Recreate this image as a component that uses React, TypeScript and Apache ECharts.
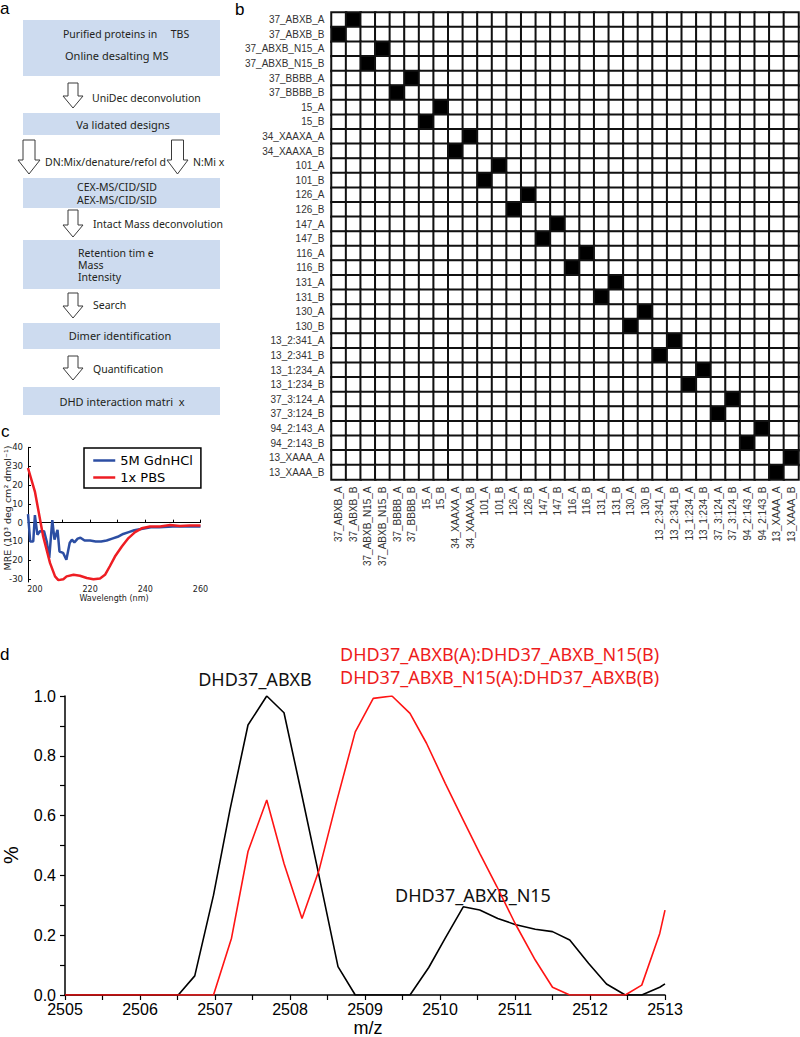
import React, { useEffect, useRef } from "react";
import * as echarts from "echarts";

// ---------- Panel b: DHD interaction matrix ----------
const designs = [
  "37_ABXB_A", "37_ABXB_B", "37_ABXB_N15_A", "37_ABXB_N15_B", "37_BBBB_A", "37_BBBB_B",
  "15_A", "15_B", "34_XAAXA_A", "34_XAAXA_B", "101_A", "101_B", "126_A", "126_B",
  "147_A", "147_B", "116_A", "116_B", "131_A", "131_B", "130_A", "130_B",
  "13_2:341_A", "13_2:341_B", "13_1:234_A", "13_1:234_B", "37_3:124_A", "37_3:124_B",
  "94_2:143_A", "94_2:143_B", "13_XAAA_A", "13_XAAA_B",
];
const interactingPairs = [
  ["37_ABXB_A", "37_ABXB_B"], ["37_ABXB_N15_A", "37_ABXB_N15_B"], ["37_BBBB_A", "37_BBBB_B"],
  ["15_A", "15_B"], ["34_XAAXA_A", "34_XAAXA_B"], ["101_A", "101_B"], ["126_A", "126_B"],
  ["147_A", "147_B"], ["116_A", "116_B"], ["131_A", "131_B"], ["130_A", "130_B"],
  ["13_2:341_A", "13_2:341_B"], ["13_1:234_A", "13_1:234_B"], ["37_3:124_A", "37_3:124_B"],
  ["94_2:143_A", "94_2:143_B"], ["13_XAAA_A", "13_XAAA_B"],
];

// ---------- Panel c: CD spectra ----------
const gdnWavelength = [197.5, 198.3, 199.4, 200, 200.9, 201.9, 203.3, 204.3, 205.2, 206.3, 207.1, 208.2, 208.9, 210.2, 211.4, 212.6, 213.4, 214.3, 215.5, 216.5, 218, 220, 222, 224, 226, 228, 230, 232, 234, 236, 238, 240, 242, 245, 250, 255, 260];
const gdnMre = [4.5, -10, -10, 4, -6.4, -4.5, -4.5, -10, -18.7, 1.4, -9, -3.8, -15.3, -16, -19.7, -10.8, -9, -10.5, -8.5, -8, -9.5, -9.5, -10, -10, -9.5, -8.5, -7.5, -6, -5, -4, -3.5, -3, -2.5, -2.5, -2, -2, -2];
const pbsWavelength = [197.5, 200, 203, 205.5, 207.3, 208.5, 210.3, 211.5, 214, 216.3, 218.8, 221.2, 223.6, 225.4, 227.2, 229, 231.5, 233.9, 236.3, 238.7, 241.7, 245.4, 249, 252.6, 256, 260];
const pbsMre = [29, 16.5, -7.3, -21.5, -28.5, -30.5, -30, -28.5, -27.7, -28.2, -29.4, -30, -29.6, -27.7, -23, -18, -12.7, -8.2, -5, -3, -2, -2, -1.3, -1.8, -1.5, -1.5];
const cdXTickLabels = [200, 220, 240, 260];
const cdXTicks = [200, 210, 220, 230, 240, 250, 260];
const cdYTickLabels = [-30, -20, -10, 0, 10, 20, 30, 40];

// ---------- Panel d: mass spectra ----------
const homodimerMz = [2505, 2506.51, 2506.73, 2506.98, 2507.2, 2507.44, 2507.69, 2507.92, 2508.15, 2508.38, 2508.64, 2508.87, 2509.6, 2509.85, 2510.07, 2510.31, 2510.53, 2510.77, 2511.0, 2511.27, 2511.5, 2511.73, 2511.98, 2512.22, 2512.47, 2512.69, 2512.93, 2513];
const homodimerIntensity = [0, 0, 0.064, 0.334, 0.62, 0.903, 1.0, 0.944, 0.678, 0.407, 0.095, 0, 0, 0.092, 0.19, 0.295, 0.284, 0.256, 0.236, 0.22, 0.212, 0.184, 0.106, 0.037, 0, 0, 0.026, 0.037];
const heterodimerMz = [2505, 2506.98, 2507.22, 2507.44, 2507.69, 2507.92, 2508.16, 2508.39, 2508.62, 2508.87, 2509.11, 2509.36, 2509.6, 2509.82, 2510.07, 2510.31, 2510.53, 2510.76, 2511.0, 2511.27, 2511.5, 2511.73, 2512.47, 2512.69, 2512.93, 2513];
const heterodimerIntensity = [0, 0, 0.19, 0.48, 0.652, 0.44, 0.256, 0.42, 0.646, 0.88, 0.992, 1.0, 0.942, 0.842, 0.708, 0.585, 0.474, 0.362, 0.24, 0.117, 0.026, 0, 0, 0.033, 0.206, 0.284];

// ---------- Panel a: workflow texts ----------
const workflowBoxes = [
  ["Purified proteins in     TBS", "Online desalting MS"],
  ["Va lidated designs"],
  ["CEX-MS/CID/SID", "AEX-MS/CID/SID"],
  ["Retention tim e", "Mass", "Intensity"],
  ["Dimer identification"],
  ["DHD interaction matri  x"],
];
const workflowSteps = ["UniDec deconvolution", "DN:Mix/denature/refol d", "N:Mi x", "Intact Mass deconvolution", "Search", "Quantification"];

const BOX = "#cddbef";
const TXT = "#231f20";
const FLOW_FONT = "'Noto Sans', sans-serif";

function arrow(cx: number, top: number, bottom: number, shaftHalf: number, headHalf: number, headLen: number) {
  const s = bottom - headLen;
  return {
    type: "polygon",
    shape: {
      points: [
        [cx - shaftHalf, top], [cx + shaftHalf, top], [cx + shaftHalf, s], [cx + headHalf, s],
        [cx, bottom], [cx - headHalf, s], [cx - shaftHalf, s],
      ],
    },
    style: { fill: "#fff", stroke: "#3a3a3a", lineWidth: 1 },
  };
}
function ftext(x: number, y: number, text: string, align: string = "left", size = 10.5) {
  return {
    type: "text", x, y,
    style: { text, fill: TXT, font: `${size}px ${FLOW_FONT}`, align, verticalAlign: "middle" },
  };
}
function box(y: number, h: number) {
  return { type: "rect", shape: { x: 23, y, width: 197, height: h }, style: { fill: BOX } };
}

export default function App() {
  const ref = useRef<HTMLDivElement>(null);
  useEffect(() => {
    if (!ref.current) return;
    const chart = echarts.init(ref.current, undefined, { renderer: "svg" });

    const idx: Record<string, number> = {};
    designs.forEach((d, i) => (idx[d] = i));
    const inter = new Set<string>();
    interactingPairs.forEach(([a, b]) => {
      inter.add(idx[a] + "," + idx[b]);
      inter.add(idx[b] + "," + idx[a]);
    });
    const heat: number[][] = [];
    for (let r = 0; r < designs.length; r++)
      for (let c = 0; c < designs.length; c++) heat.push([c, r, inter.has(r + "," + c) ? 1 : 0]);

    const letterFont = "17px 'Liberation Sans', sans-serif";
    const graphics: any[] = [
      // panel letters
      { type: "text", x: 0, y: 8, style: { text: "a", font: letterFont, fill: "#000", verticalAlign: "middle" } },
      { type: "text", x: 235, y: 9, style: { text: "b", font: letterFont, fill: "#000", verticalAlign: "middle" } },
      { type: "text", x: 1, y: 431, style: { text: "c", font: letterFont, fill: "#000", verticalAlign: "middle" } },
      { type: "text", x: 0, y: 654, style: { text: "d", font: letterFont, fill: "#000", verticalAlign: "middle" } },
      // workflow
      box(20, 56), box(113, 22), box(178, 30), box(240, 49), box(323, 26), box(387, 28),
      ftext(63, 34, workflowBoxes[0][0]), ftext(65, 55, workflowBoxes[0][1], "left", 11),
      ftext(123, 124, workflowBoxes[1][0], "center", 11),
      ftext(117, 187, workflowBoxes[2][0], "center", 10.5), ftext(117, 200, workflowBoxes[2][1], "center", 10.5),
      ftext(78, 253, workflowBoxes[3][0]), ftext(78, 265, workflowBoxes[3][1]), ftext(78, 277, workflowBoxes[3][2]),
      ftext(120, 335, workflowBoxes[4][0], "center", 11),
      ftext(122, 401, workflowBoxes[5][0], "center", 11),
      arrow(73, 83, 108, 5, 10, 12), ftext(92, 98, workflowSteps[0]),
      arrow(29, 140, 174, 6, 11, 14), ftext(45, 162, workflowSteps[1]),
      arrow(177.5, 140, 174, 6, 10.5, 14), ftext(193, 162, workflowSteps[2]),
      arrow(73, 210, 237, 5, 10, 12), ftext(93, 224, workflowSteps[3]),
      arrow(73, 293, 318, 5, 10, 12), ftext(93, 305, workflowSteps[4]),
      arrow(73, 356, 380, 5, 10, 12), ftext(93, 369, workflowSteps[5]),
      // panel c axis titles
      { type: "text", x: 114, y: 598, style: { text: "Wavelength (nm)", font: "8px 'DejaVu Sans', sans-serif", fill: "#222", align: "center", verticalAlign: "middle" } },
      { type: "text", x: 7, y: 508, rotation: Math.PI / 2, style: { text: "MRE (10³ deg cm² dmol⁻¹)", font: "9.5px 'DejaVu Sans', sans-serif", fill: "#222", align: "center", verticalAlign: "middle" } },
      // panel d annotations
      { type: "text", x: 255, y: 679, style: { text: "DHD37_ABXB", font: "18px 'Noto Sans', sans-serif", fill: "#111", align: "center", verticalAlign: "middle" } },
      { type: "text", x: 340, y: 654, style: { text: "DHD37_ABXB(A):DHD37_ABXB_N15(B)", font: "18px 'Noto Sans', sans-serif", fill: "#ee1c1c", verticalAlign: "middle" } },
      { type: "text", x: 340, y: 677, style: { text: "DHD37_ABXB_N15(A):DHD37_ABXB(B)", font: "18px 'Noto Sans', sans-serif", fill: "#ee1c1c", verticalAlign: "middle" } },
      { type: "text", x: 395, y: 895, style: { text: "DHD37_ABXB_N15", font: "18px 'Noto Sans', sans-serif", fill: "#111", verticalAlign: "middle" } },
      { type: "text", x: 368, y: 1027.5, style: { text: "m/z", font: "18px 'Liberation Sans', sans-serif", fill: "#000", align: "center", verticalAlign: "middle" } },
      { type: "text", x: 11, y: 855, rotation: Math.PI / 2, style: { text: "%", font: "20px 'Liberation Sans', sans-serif", fill: "#000", align: "center", verticalAlign: "middle" } },
    ];

    const cdAxisLabel = { fontSize: 8, color: "#222", fontFamily: "'DejaVu Sans', sans-serif" };
    const msAxisLabel = { fontSize: 16, color: "#000", fontFamily: "'Liberation Sans', Arial, sans-serif" };

    chart.setOption({
      animation: false,
      backgroundColor: "#fff",
      grid: [
        { left: 331.5, top: 12.5, width: 467, height: 467, outerBoundsMode: "none" },
        { left: 28, top: 447.3, width: 172.5, height: 134.7, outerBoundsMode: "none" },
        { left: 65, top: 696, width: 600, height: 299, outerBoundsMode: "none" },
      ],
      xAxis: [
        {
          gridIndex: 0, type: "category", data: designs, position: "bottom",
          axisLine: { show: false }, axisTick: { show: false }, splitLine: { show: false },
          axisLabel: { rotate: 90, interval: 0, margin: 7, fontSize: 10, color: "#333", fontFamily: "'Liberation Sans', Arial, sans-serif" },
        },
        {
          gridIndex: 1, type: "value", min: 197.5, max: 260,
          axisLine: { lineStyle: { color: "#000", width: 1 } },
          axisTick: { inside: true, length: 3, customValues: cdXTicks, lineStyle: { color: "#000" } },
          axisLabel: { ...cdAxisLabel, margin: 3, customValues: cdXTickLabels },
          splitLine: { show: false },
        },
        {
          gridIndex: 2, type: "value", min: 2505, max: 2513, interval: 1,
          axisLine: { lineStyle: { color: "#000", width: 1.5 } },
          axisTick: { length: 5, lineStyle: { color: "#000", width: 1.2 } },
          minorTick: { show: true, splitNumber: 2, length: 5, lineStyle: { color: "#000", width: 1.2 } },
          axisLabel: { ...msAxisLabel, margin: 6, formatter: (v: number) => String(Math.round(v)) },
          splitLine: { show: false },
        },
      ],
      yAxis: [
        {
          gridIndex: 0, type: "category", data: designs, inverse: true,
          axisLine: { show: false }, axisTick: { show: false }, splitLine: { show: false },
          axisLabel: { interval: 0, margin: 7, fontSize: 10, color: "#333", fontFamily: "'Liberation Sans', Arial, sans-serif" },
        },
        {
          gridIndex: 1, type: "value", min: -31.5, max: 40,
          axisLine: { show: true, lineStyle: { color: "#000", width: 1 } },
          axisTick: { show: true, inside: true, length: 3, customValues: cdYTickLabels, lineStyle: { color: "#000" } },
          axisLabel: { ...cdAxisLabel, fontSize: 8.5, margin: 5, customValues: cdYTickLabels },
          splitLine: { show: false },
        },
        {
          gridIndex: 2, type: "value", min: 0, max: 1, interval: 0.2,
          axisLine: { show: true, lineStyle: { color: "#000", width: 1.5 } },
          axisTick: { show: true, length: 5, lineStyle: { color: "#000", width: 1.2 } },
          minorTick: { show: true, splitNumber: 2, length: 5, lineStyle: { color: "#000", width: 1.2 } },
          axisLabel: { ...msAxisLabel, margin: 9, formatter: (v: number) => v.toFixed(1) },
          splitLine: { show: false },
        },
      ],
      visualMap: {
        type: "piecewise", show: false, seriesIndex: 0, dimension: 2,
        pieces: [{ value: 0, color: "#ffffff" }, { value: 1, color: "#000000" }],
      },
      legend: {
        data: ["5M GdnHCl", "1x PBS"],
        orient: "vertical", left: 84, top: 448,
        borderColor: "#000", borderWidth: 1.5, borderRadius: 0,
        padding: [6, 8, 4, 8], itemGap: 4, itemWidth: 22, itemHeight: 14,
        itemStyle: { opacity: 0 },
        lineStyle: { width: 2.5 },
        textStyle: { fontSize: 13, color: "#000", fontFamily: "'DejaVu Sans', sans-serif" },
        selectedMode: false,
      },
      graphic: graphics,
      series: [
        {
          type: "heatmap", xAxisIndex: 0, yAxisIndex: 0, data: heat,
          itemStyle: { borderColor: "#111", borderWidth: 2 },
          emphasis: { disabled: true }, silent: true,
        },
        {
          name: "5M GdnHCl", type: "line", xAxisIndex: 1, yAxisIndex: 1, symbol: "none",
          data: gdnWavelength.map((w, i) => [w, gdnMre[i]]),
          lineStyle: { color: "#2c4ea3", width: 2.5 }, itemStyle: { color: "#2c4ea3" },
        },
        {
          name: "1x PBS", type: "line", xAxisIndex: 1, yAxisIndex: 1, symbol: "none",
          data: pbsWavelength.map((w, i) => [w, pbsMre[i]]),
          lineStyle: { color: "#ee1d23", width: 2.5 }, itemStyle: { color: "#ee1d23" },
        },
        {
          name: "homodimers", type: "line", xAxisIndex: 2, yAxisIndex: 2, symbol: "none",
          data: homodimerMz.map((m, i) => [m, homodimerIntensity[i]]),
          lineStyle: { color: "#000", width: 1.6 }, itemStyle: { color: "#000" },
        },
        {
          name: "heterodimer", type: "line", xAxisIndex: 2, yAxisIndex: 2, symbol: "none",
          data: heterodimerMz.map((m, i) => [m, heterodimerIntensity[i]]),
          lineStyle: { color: "#ff1414", width: 1.6 }, itemStyle: { color: "#ff1414" },
        },
      ],
    });
    return () => chart.dispose();
  }, []);

  return <div ref={ref} style={{ position: "absolute", left: 0, top: 0, width: 800, height: 1037 }} />;
}
